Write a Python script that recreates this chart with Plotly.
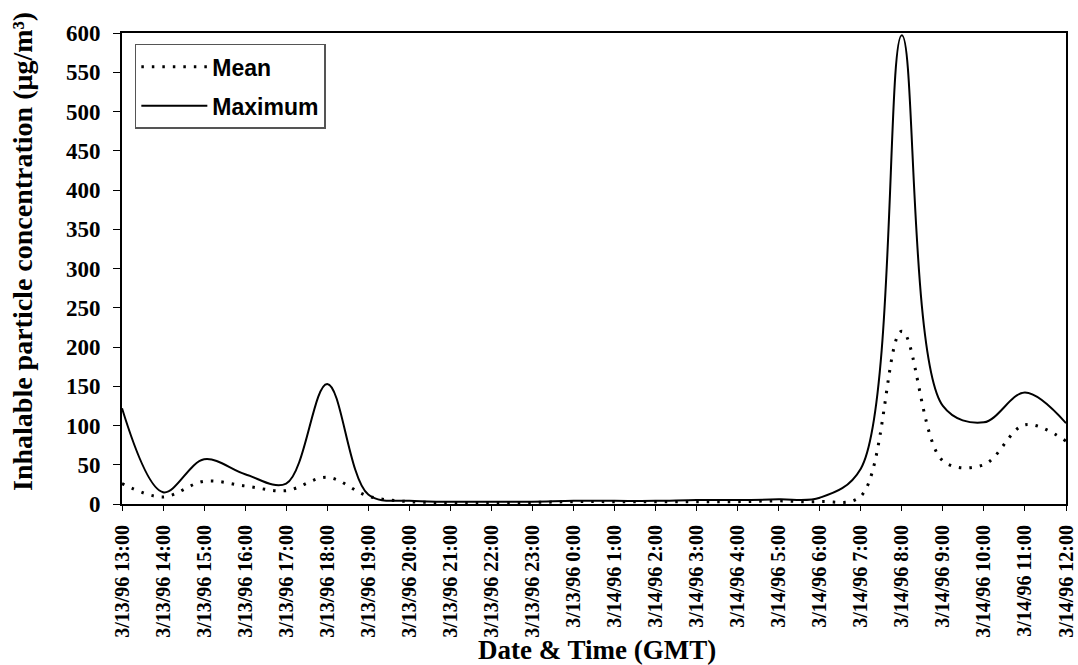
import plotly.graph_objects as go

categories = [
    "3/13/96 13:00", "3/13/96 14:00", "3/13/96 15:00", "3/13/96 16:00",
    "3/13/96 17:00", "3/13/96 18:00", "3/13/96 19:00", "3/13/96 20:00",
    "3/13/96 21:00", "3/13/96 22:00", "3/13/96 23:00", "3/13/96 0:00",
    "3/14/96 1:00", "3/14/96 2:00", "3/14/96 3:00", "3/14/96 4:00",
    "3/14/96 5:00", "3/14/96 6:00", "3/14/96 7:00", "3/14/96 8:00",
    "3/14/96 9:00", "3/14/96 10:00", "3/14/96 11:00", "3/14/96 12:00",
]
mean_vals = [26, 9, 29, 23, 17, 34, 10, 3, 2, 2, 2, 3, 3, 3, 3, 3, 4, 3,
             10, 220, 55, 50, 101, 80]
max_vals = [122, 15, 57, 38, 26, 153, 12, 4, 3, 3, 3, 4, 4, 4, 5, 5, 6, 8,
            45, 597, 125, 104, 142, 103]
y_ticks = list(range(0, 601, 50))

hours = list(range(len(categories)))

SERIF = "Liberation Serif"
SANS = "Liberation Sans"

fig = go.Figure()
fig.add_trace(go.Scatter(
    x=hours, y=mean_vals, mode="lines", name="Mean",
    line=dict(color="black", width=3, dash="2.5px,8px", shape="spline", smoothing=1),
    legendgroup="a",
))
fig.add_trace(go.Scatter(
    x=hours, y=max_vals, mode="lines", name="Maximum",
    line=dict(color="black", width=2, shape="spline", smoothing=1),
    legendgroup="b",
))

axis_common = dict(showgrid=False, zeroline=False, showline=True, linecolor="black",
                   linewidth=2, tickcolor="black", tickwidth=1, automargin=False)

fig.update_layout(
    width=1078, height=665,
    margin=dict(l=122, r=12, t=33, b=161),
    paper_bgcolor="white", plot_bgcolor="white",
    showlegend=True,
    legend=dict(
        x=0.0136, y=0.977, xanchor="left", yanchor="top",
        bgcolor="white", bordercolor="#555555", borderwidth=1.5,
        font=dict(family=SANS, size=23, color="black", weight="bold"),
        traceorder="grouped", tracegroupgap=6, itemwidth=66,
        entrywidth=122,
    ),
    xaxis=dict(
        range=[0, 23], tickmode="array", tickvals=hours, ticktext=categories,
        tickangle=-90, ticks="outside", ticklen=5, mirror=True,
        tickfont=dict(family=SERIF, size=20, color="black", weight="bold"),
        ticklabelstandoff=6, ticklabeloverflow="allow",
        **axis_common,
    ),
    yaxis=dict(
        range=[0, 600], tickmode="array", tickvals=y_ticks,
        ticks="outside", ticklen=7, mirror=True,
        tickfont=dict(family=SERIF, size=23, color="black", weight="bold"),
        ticklabelstandoff=8,
        **axis_common,
    ),
    xaxis2=dict(
        overlaying="x", matches="x", anchor="y", tickmode="array", tickvals=hours,
        ticks="inside", ticklen=5, tickcolor="black", showticklabels=False,
        showgrid=False, zeroline=False, showline=False,
    ),
    yaxis2=dict(
        overlaying="y", matches="y", anchor="x", tickmode="array", tickvals=y_ticks,
        ticks="inside", ticklen=7, tickcolor="black", showticklabels=False,
        showgrid=False, zeroline=False, showline=False,
    ),
    annotations=[
        dict(text="Inhalable particle concentration (μg/m³)", textangle=-90,
             xref="paper", yref="paper", x=0, y=0.535, xshift=-100,
             xanchor="center", yanchor="middle", showarrow=False,
             font=dict(family=SERIF, size=28, color="black", weight="bold")),
        dict(text="Date &amp; Time (GMT)",
             xref="paper", yref="paper", x=0.503, y=0, yshift=-146,
             xanchor="center", yanchor="middle", showarrow=False,
             font=dict(family=SERIF, size=27, color="black", weight="bold")),
    ],
)

fig.write_html("out.html")
